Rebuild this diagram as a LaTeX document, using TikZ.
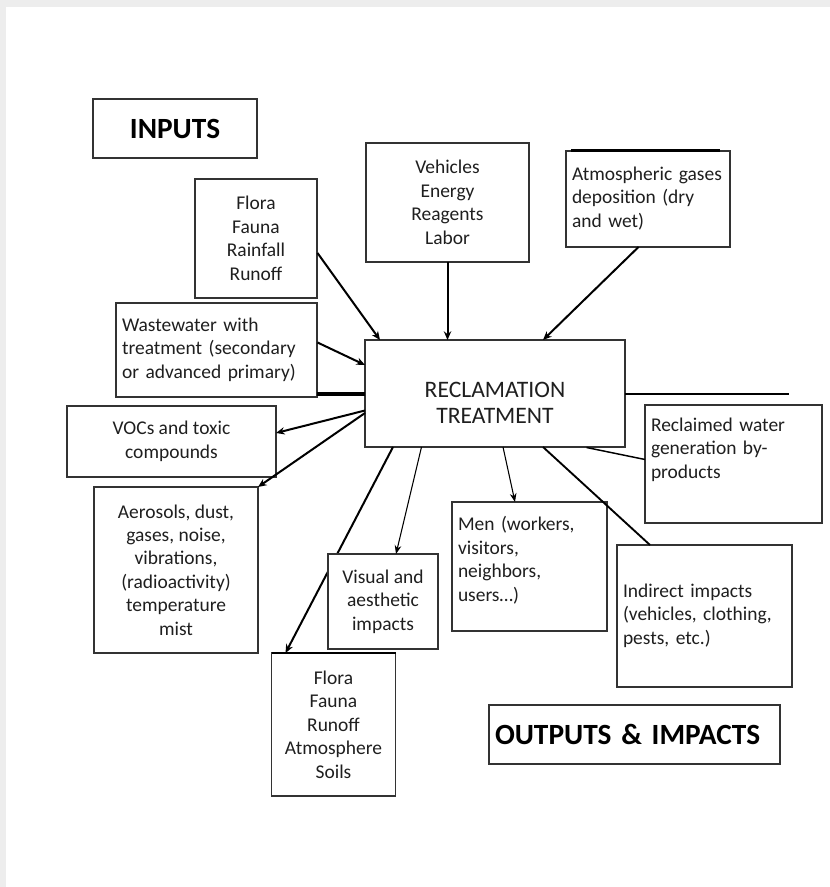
\documentclass[tikz,border=0pt]{standalone}
\usepackage{fontspec}
\setmainfont{Carlito}
\usetikzlibrary{arrows.meta,calc}
\newdimen\pxu \pxu=0.75pt
\newcommand\tabL[1]{\begin{tabular}{@{}l@{}}#1\end{tabular}}
\newcommand\tabC[1]{\begin{tabular}{@{}c@{}}#1\end{tabular}}
\begin{document}
\begin{tikzpicture}[x=0.75pt,y=-0.75pt,
  font=\fontsize{14.6}{17.6}\selectfont, text=black!88,
  box/.style={draw=black!80,line width=0.9pt,fill=white,inner sep=0pt,outer sep=0pt},
  cbox/.style={box,align=center},
  lbox/.style={box,align=left,inner xsep=4.5pt},
  title/.style={font=\fontsize{22}{26}\selectfont\bfseries,text=black},
  arr/.style={-{Stealth[length=6.5pt,width=5.5pt]},line width=1.5pt,draw=black},
  tarr/.style={-{Stealth[length=6.5pt,width=5pt]},line width=0.8pt,draw=black},
  ln/.style={line width=1.4pt,draw=black}]
\useasboundingbox (0,0) rectangle (830,887);
\fill[white] (0,0) rectangle (830,887);
\fill[black!7] (0,0) rectangle (830,7);
\fill[black!7] (0,0) rectangle (6,887);

% inputs
\node[box,title,minimum width=164\pxu,minimum height=59\pxu] (inp) at (175,128.5) {INPUTS};
\node[cbox,minimum width=122\pxu,minimum height=119\pxu] (fin) at (256,238.5) {Flora\\Fauna\\Rainfall\\Runoff};
\node[cbox,minimum width=163\pxu,minimum height=119\pxu] (veh) at (447.5,202.5) {Vehicles\\Energy\\Reagents\\Labor};
\node[lbox,minimum width=164\pxu,minimum height=96\pxu,text width=152\pxu] (atm) at (648,199) {\tabL{Atmospheric gases\\deposition (dry\\and wet)}};
\draw[line width=1.6pt] ([shift={(5,-0.5)}]atm.north west) -- ([shift={(-10,-0.5)}]atm.north east);
\node[lbox,minimum width=201\pxu,minimum height=94\pxu,text width=189\pxu] (ww) at (216.5,350) {\tabL{Wastewater with\\treatment (secondary\\or advanced primary)}};

% centre
\node[box,minimum width=260\pxu,minimum height=107\pxu,font=\fontsize{17.7}{19.5}\selectfont] (cen) at (495,393.5) {\raisebox{-9pt}[\height][\depth]{\tabC{RECLAMATION\\TREATMENT}}};

% outputs
\node[cbox,minimum width=209\pxu,minimum height=71\pxu] (voc) at (171.5,441.5) {VOCs and toxic\\compounds};
\node[cbox,minimum width=164\pxu,minimum height=166\pxu] (aer) at (176,570) {Aerosols, dust,\\gases, noise,\\vibrations,\\(radioactivity)\\temperature\\mist};
\node[cbox,minimum width=124\pxu,minimum height=143\pxu] (fout) at (333.5,724.5) {Flora\\Fauna\\Runoff\\Atmosphere\\Soils};
\draw[line width=1.5pt] (fout.north west) -- (fout.north east);
\node[lbox,minimum width=155\pxu,minimum height=129\pxu,text width=143\pxu] (men) at (529.5,566.5) {\raisebox{3.75pt}[\height][\depth]{\tabL{Men (workers,\\visitors,\\neighbors,\\users…)}}};
\node[lbox,minimum width=177\pxu,minimum height=118\pxu,text width=165\pxu] (rec) at (733.5,464) {\raisebox{10.5pt}[\height][\depth]{\tabL{Reclaimed water\\generation by-\\products}}};
\node[lbox,minimum width=175\pxu,minimum height=142\pxu,text width=163\pxu] (ind) at (704.5,616) {\tabL{Indirect impacts\\(vehicles, clothing,\\pests, etc.)}};
\node[lbox,title,minimum width=291\pxu,minimum height=59\pxu,text width=279\pxu] (out) at (634.5,734.5) {OUTPUTS \& IMPACTS};

% input connectors
\draw[arr] ([shift={(0.5,14.5)}]fin.east) -- ([shift={(15,0)}]cen.north west);
\draw[arr] ([shift={(0.5,-7.5)}]ww.east) -- ([shift={(0,-28.5)}]cen.west);
\draw[line width=2.8pt] ([shift={(0,44)}]ww.east) -- ([shift={(0,0.5)}]cen.west);
\draw[arr] (veh.south) -- (veh.south |- cen.north);
\draw[arr] ([shift={(-9.5,0)}]atm.south) -- ([shift={(48,0)}]cen.north);

% output connectors
\draw[arr] ([shift={(0,17)}]cen.west) -- ([shift={(0,-8.5)}]voc.east);
\draw[arr] ([shift={(0,19.5)}]cen.west) -- (aer.north east);
\draw[arr] ([shift={(28,0)}]cen.south west) -- ([shift={(14,0)}]fout.north west);
\node[cbox,minimum width=110\pxu,minimum height=95\pxu] (vis) at (383,601.5) {Visual and\\aesthetic\\impacts};
\draw[tarr] ([shift={(56.5,0)}]cen.south west) -- ([shift={(13,0)}]vis.north);
\draw[tarr] ([shift={(138,0)}]cen.south west) -- ([shift={(63,0)}]men.north west);
\draw[ln] ([shift={(178,0)}]cen.south west) -- ([shift={(33,0)}]ind.north west);
\draw[line width=1.1pt] ([shift={(221.5,0.5)}]cen.south west) -- ([shift={(0,-4.5)}]rec.west);
\coordinate (rend) at (789,394);
\draw[ln] ([shift={(0,0.5)}]cen.east) -- (rend);
\end{tikzpicture}
\end{document}
